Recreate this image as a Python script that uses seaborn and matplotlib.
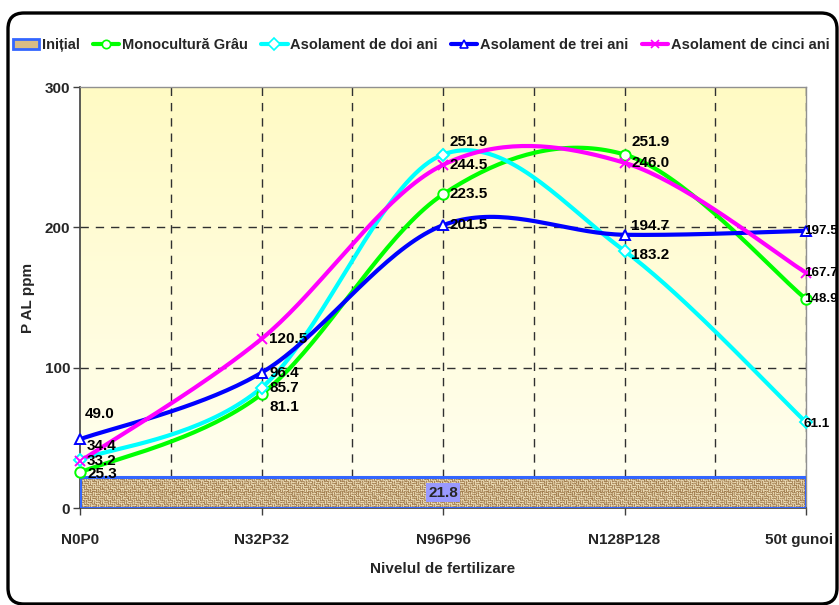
import numpy as np
import pandas as pd
import matplotlib
matplotlib.use("Agg")
import matplotlib.pyplot as plt
import matplotlib.transforms as mtransforms
from matplotlib.patches import FancyBboxPatch, Patch
from matplotlib.lines import Line2D
import seaborn as sns

# ---- data -------------------------------------------------------------
categories = ["N0P0", "N32P32", "N96P96", "N128P128", "50t gunoi"]
initial_value = 21.8
monocultura = [25.3, 81.1, 223.5, 251.9, 148.9]
doi_ani = [34.4, 85.7, 251.9, 183.2, 61.1]
trei_ani = [49.0, 96.4, 201.5, 194.7, 197.5]
cinci_ani = [33.2, 120.5, 244.5, 246.0, 167.7]

series_names = ["Monocultură Grâu", "Asolament de doi ani",
                "Asolament de trei ani", "Asolament de cinci ani"]
series_values = [monocultura, doi_ani, trei_ani, cinci_ani]
series_colors = ["#00FF00", "#00FFFF", "#0000FF", "#FF00FF"]
series_markers = ["o", "D", "^", "x"]
marker_sizes = [7.5, 6, 7.5, 6.5]

# label offsets in pixels (dx, dy) for each series at each category
label_offsets = [
    [(7, -2), (8, -13), (7, 0), (7, 13), (-2, 0)],
    [(7, 14), (8, 0), (7, 13), (7, -4), (-2, -2)],
    [(5, 25), (8, 0), (7, 0), (7, 9), (-2, 0)],
    [(7, 0), (8, 0), (7, 0), (7, 0), (-2, 0)],
]

FONT = ["Liberation Sans", "DejaVu Sans"]
FS = 11
LEG_FS = 10.5

sns.set_style("white")
plt.rcParams["font.family"] = FONT
plt.rcParams["font.weight"] = "bold"
plt.rcParams["axes.labelweight"] = "bold"

W, H, DPI = 839, 605, 100
fig = plt.figure(figsize=(W / DPI, H / DPI), dpi=DPI)
fig.patch.set_facecolor("white")

L, R, T, B = 80, 806, 87, 508
ax = fig.add_axes([L / W, (H - B) / H, (R - L) / W, (B - T) / H])

x = np.arange(len(categories))
ax.set_xlim(0, len(categories) - 1)
ax.set_ylim(0, 300)

# pale yellow gradient behind the plot
grad = np.linspace(0, 1, 256)[:, None]
top = np.array([255, 250, 196]) / 255
bot = np.array([255, 255, 242]) / 255
img = top[None, None, :] * (1 - grad[..., None]) + bot[None, None, :] * grad[..., None]
img = np.repeat(img, 4, axis=1)
ax.imshow(img, extent=(0, 4, 0, 300), aspect="auto", zorder=0,
          interpolation="bilinear")

# dashed grid
for gx in np.arange(0.5, 4.01, 0.5):
    ax.axvline(gx, color="#303030", lw=1.0, ls=(0, (6, 5)), zorder=1)
for gy in [100, 200]:
    ax.axhline(gy, color="#303030", lw=1.0, ls=(0, (6, 5)), zorder=1)

# initial level: one wide textured bar across all categories
bar = ax.bar([(len(categories) - 1) / 2], [initial_value], width=len(categories) - 1,
             color="none", edgecolor="#3366FF", linewidth=2.2, zorder=3)[0]
th, tw = 32, 726
yy, xx = np.mgrid[0:th, 0:tw]
cell = 4
check = ((xx // cell) + (yy // cell)) % 2
stripe = np.where(check == 0, np.sin(np.pi * yy / 2.0) ** 2, np.sin(np.pi * xx / 2.0) ** 2)
h = np.sin(xx * 12.9898 + yy * 78.233) * 43758.5453
hash_ = h - np.floor(h)
mix = np.clip(0.6 * stripe + 0.4 * hash_, 0, 1)[..., None]
light = np.array([238, 222, 184]) / 255
dark = np.array([160, 124, 78]) / 255
tex = dark * (1 - mix) + light * mix
tex_im = ax.imshow(tex, extent=(0, 4, 0, initial_value), aspect="auto", zorder=2,
                   interpolation="nearest")
tex_im.set_clip_path(bar)
ax.text((len(categories) - 1) / 2, initial_value / 2, f"{initial_value:.1f}",
        ha="center", va="center", fontsize=FS, fontweight="bold", zorder=6,
        bbox=dict(boxstyle="square,pad=0.15", fc="#9999FF", ec="none"))


def smooth(vals, n=40):
    """Catmull-Rom style cubic Bezier smoothing through the points."""
    pts = np.column_stack([np.arange(len(vals), dtype=float), np.asarray(vals, float)])
    ext = np.vstack([pts[0], pts, pts[-1]])
    out = []
    t = np.linspace(0, 1, n)[:, None]
    for i in range(len(pts) - 1):
        p0, p3 = ext[i + 1], ext[i + 2]
        c1 = p0 + (ext[i + 2] - ext[i]) / 6.0
        c2 = p3 - (ext[i + 3] - ext[i + 1]) / 6.0
        seg = ((1 - t) ** 3) * p0 + 3 * ((1 - t) ** 2) * t * c1 + 3 * (1 - t) * t ** 2 * c2 + t ** 3 * p3
        out.append(seg if i == 0 else seg[1:])
    return np.vstack(out)


last = len(categories) - 1
for name, vals, col, mk, ms, offs in zip(series_names, series_values, series_colors,
                                         series_markers, marker_sizes, label_offsets):
    curve = smooth(vals)
    df = pd.DataFrame({"x": curve[:, 0], "y": curve[:, 1]})
    sns.lineplot(data=df, x="x", y="y", color=col, lw=3.0, sort=False,
                 estimator=None, ax=ax, zorder=4)
    ax.plot(x, vals, ls="none", marker=mk, ms=ms, mfc="white", mec=col,
            mew=1.4, zorder=5, clip_on=False)
    for xi, v, (dx, dy) in zip(x, vals, offs):
        ax.annotate(f"{v:.1f}", (xi, v), xytext=(dx, dy), textcoords="offset pixels",
                    ha="left", va="center", fontsize=(9.6 if xi == last else FS),
                    fontweight="bold", color="black", zorder=7, annotation_clip=False)

# axes styling
ax.set_xticks(x)
ax.set_xticklabels(categories)
ax.set_yticks([0, 100, 200, 300])
ax.tick_params(axis="both", which="both", direction="out", length=5, width=1,
               color="#404040", labelsize=FS)
ax.tick_params(axis="x", pad=13)
ax.tick_params(axis="y", pad=2)
ax.xaxis.set_ticks_position("bottom")
ax.yaxis.set_ticks_position("left")
for lab in ax.get_xticklabels() + ax.get_yticklabels():
    lab.set_fontweight("bold")
# keep the last category name inside the frame
last_lab = ax.get_xticklabels()[-1]
last_lab.set_transform(last_lab.get_transform() +
                       mtransforms.ScaledTranslation(-7 / DPI, 0, fig.dpi_scale_trans))
for side in ["top", "right"]:
    ax.spines[side].set_color("#909090")
    ax.spines[side].set_linewidth(1)
for side in ["left", "bottom"]:
    ax.spines[side].set_color("#404040")
    ax.spines[side].set_linewidth(1.2)
ax.set_xlabel("Nivelul de fertilizare", fontsize=FS, fontweight="bold", labelpad=11)
ax.set_ylabel("P AL ppm", fontsize=FS, fontweight="bold", labelpad=7)

# legend across the top
handles = [Patch(facecolor="#D9BC84", edgecolor="#3366FF", linewidth=2, label="Inițial")]
for name, col, mk in zip(series_names, series_colors, series_markers):
    handles.append(Line2D([0], [0], color=col, lw=3, marker=mk, ms=6,
                          mfc="white", mec=col, mew=1.2, label=name))
fig.legend(handles=handles, loc="center", bbox_to_anchor=(0.502, 1 - 45 / H),
           ncol=5, frameon=False, handlelength=1.8, handletextpad=0.2,
           columnspacing=0.9, prop={"weight": "bold", "size": LEG_FS, "family": FONT})

# rounded chart frame, drawn beneath the plot contents
frame = FancyBboxPatch((8 / DPI, 1 / DPI), 829 / DPI, 591 / DPI,
                       boxstyle="round,pad=0,rounding_size=0.16",
                       transform=fig.dpi_scale_trans, fill=False,
                       edgecolor="black", linewidth=2.4, zorder=-1)
fig.patches.append(frame)

fig.savefig("out.png", dpi=DPI)
